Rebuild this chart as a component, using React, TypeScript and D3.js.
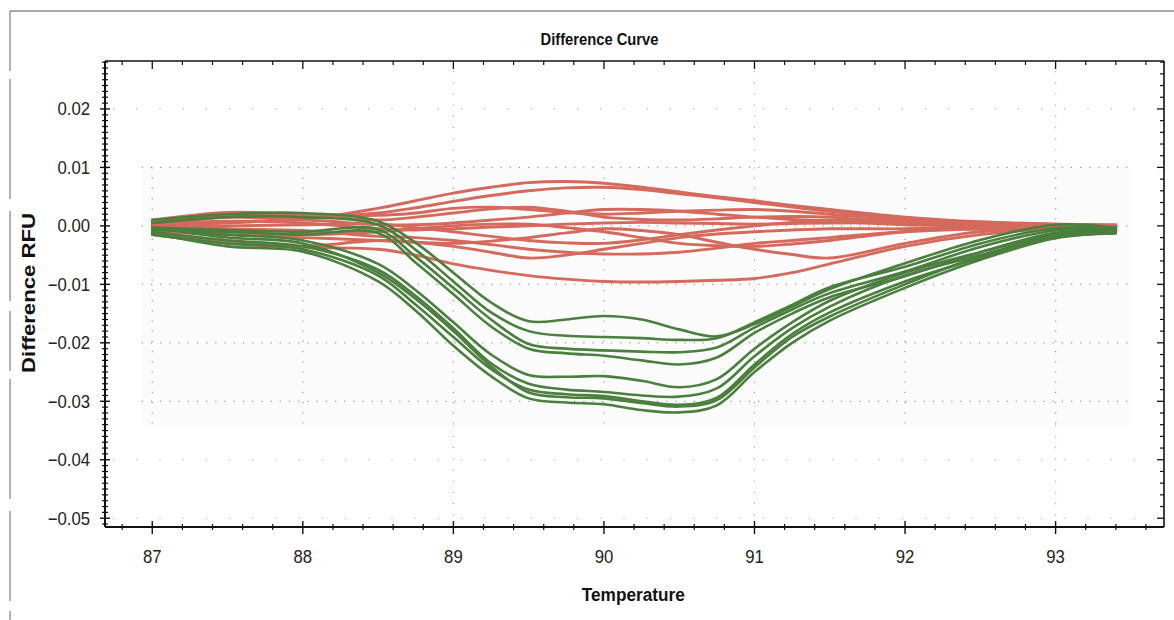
import React from "react";
import * as d3 from "d3";

const temps = [87, 87.5, 88, 88.5, 88.75, 89, 89.25, 89.5, 89.75, 90, 90.25, 90.5, 90.75, 91, 91.25, 91.5, 92, 92.5, 93, 93.4];

// values in mRFU (x 0.001)
const redSeries: number[][] = [
  [0.5, 1.5, 1.2, 3, 4.3, 5.6, 6.6, 7.4, 7.6, 7.3, 6.6, 5.8, 5, 4.3, 3.5, 2.8, 1.5, 0.7, 0.3, 0],
  [0.8, 1.8, 1.5, 2.2, 3.1, 4.2, 5.2, 6, 6.5, 6.6, 6.2, 5.5, 4.8, 4, 3.2, 2.5, 1.2, 0.6, 0.2, -0.1],
  [1, 2.3, 2, 1.8, 2.2, 3, 3.2, 2.8, 2.3, 2, 2.2, 2.5, 2.7, 2.8, 2.5, 2, 1, 0.5, 0.3, 0.2],
  [0.2, 1.5, 1.8, 1, 1.5, 2.2, 2.9, 3.2, 2.5, 1.5, 1.1, 1, 1.2, 1.5, 1.6, 1.5, 0.5, 0.2, 0, -0.2],
  [0, 0.5, 1, 0.2, 0.2, 0.5, 1, 1.5, 2.2, 2.8, 2.8, 2.5, 2, 1.5, 1.1, 0.8, 0.2, 0, -0.2, -0.3],
  [0.3, 0.8, 0.5, -0.5, -0.7, -0.5, -0.2, 0, 0.3, 0.5, 0.6, 0.5, 0.4, 0.3, 0.4, 0.5, 0.5, 0.3, 0, -0.4],
  [-0.3, 0, 0.2, 0.3, -0.3, -1, -1.8, -2.5, -2.9, -3, -2.4, -1.5, -0.7, 0, 0.6, 1, 0.8, 0.3, 0, -0.5],
  [-0.5, -1, -1.5, -1, -0.5, 0, 0.3, 0.3, -0.3, -1, -2, -3, -3.4, -3.5, -3.1, -2.5, -1, -0.5, -0.3, -0.6],
  [-1, -1.5, -2, -2.5, -2.8, -3, -2.6, -2, -1.2, -0.5, -0.8, -1.5, -2.8, -4, -4.9, -5.5, -3, -1, -0.5, -0.7],
  [-1.5, -3, -3.5, -2.5, -2.8, -3.5, -4.5, -5.5, -5, -4, -3, -2, -1.4, -1, -0.7, -0.5, -0.5, -0.3, -0.3, -0.8],
  [-1.2, -2.5, -3.6, -4, -5, -6.5, -7.6, -8.5, -9.1, -9.5, -9.6, -9.5, -9.3, -9, -8, -6.5, -3.5, -1.5, -0.5, -0.8],
  [0, -0.5, -0.8, -1.8, -2, -2.5, -3.2, -4, -4.5, -4.8, -4.8, -4.5, -3.8, -3, -2.5, -2, -1, -0.5, -0.2, -0.5],
];

const greenSeries: number[][] = [
  [1, 2, 2.2, 0.8, -2.9, -8, -13.1, -16.3, -16, -15.4, -16, -17.7, -18.9, -16.8, -13.8, -10.8, -6.4, -2.4, 0.2, -0.3],
  [0.5, 1.5, 1.5, 0.2, -4.1, -9.5, -14.8, -18, -18.8, -19, -19.2, -19.5, -19.2, -16.5, -13.5, -10.5, -7, -3, -0.4, -0.5],
  [-0.3, -0.7, -1, -0.6, -5.3, -10.6, -16, -20.2, -21, -21.3, -21.5, -21.6, -20.8, -17.4, -14.3, -11.5, -7.8, -3.6, -0.8, -0.7],
  [-0.7, -1, -1.5, -1.2, -6.3, -11.7, -17.2, -21, -21.8, -22.2, -23, -23.7, -22.5, -18.3, -15, -12.2, -8.6, -4.5, -1.2, -0.9],
  [-0.5, -1.5, -2.5, -6.5, -11, -16.5, -22, -25.5, -25.8, -25.7, -26.5, -27.6, -26.2, -21, -16.5, -12.8, -8, -4.5, -1.5, -0.8],
  [-1, -2.5, -3.5, -7.5, -12, -17.5, -23.5, -27, -28, -28.4, -29, -29.2, -27.8, -22.3, -17.5, -13.8, -8.5, -5, -1.8, -1],
  [-1.5, -3, -4, -8.5, -13.5, -19, -24.5, -28, -28.8, -29.1, -30, -30.6, -29.4, -23.7, -18.5, -14.8, -9.5, -5.5, -2, -1.2],
  [-1.2, -3.5, -4.4, -9.5, -14.5, -20.5, -25.7, -29.5, -30.2, -30.5, -31.5, -31.9, -30.7, -25, -20, -16.2, -10.6, -5.8, -2.1, -1.3],
  [-0.3, -2, -3, -8, -12.5, -18, -24, -28.5, -29.3, -29.5, -30.3, -30.9, -29.8, -24.2, -19, -15.5, -10, -5.2, -1.9, -1],
];

const xTicks = [87, 88, 89, 90, 91, 92, 93];
const yTicks = [0.02, 0.01, 0.0, -0.01, -0.02, -0.03, -0.04, -0.05];
const denseGridY = [0.01, 0.0, -0.01, -0.02, -0.03];
const sparseGridY = [0.02, -0.04, -0.05];

const titleText = "Difference Curve";
const xTitle = "Temperature";
const yTitle = "Difference RFU";

const RED = "#d4695c";
const GREEN = "#4a7f3e";

export default function App() {
  const W = 1174, H = 620;
  const L = 105, R = 1164, T = 61, B = 527;
  const x = d3.scaleLinear().domain([86.686, 93.72]).range([L, R]);
  const y = d3.scaleLinear().domain([-0.0515, 0.0282]).range([B, T]);
  const line = d3
    .line<number>()
    .x((_, i) => x(temps[i]))
    .y((v) => y(v / 1000))
    .curve(d3.curveCatmullRom.alpha(0.5));

  const fmt = d3.format(".2f");
  const xMinor = d3.range(86.8, 93.61, 0.2).filter((v) => Math.abs(v - Math.round(v)) > 0.01);
  const yMinor = d3.range(-51, 29, 1).map((v) => v / 1000).filter((v) => Math.abs(v * 100 - Math.round(v * 100)) > 1e-6);
  const yRightMinor = d3.range(-50, 29, 2).map((v) => v / 1000).filter((v) => Math.abs(v * 100 - Math.round(v * 100)) > 1e-6);

  const gx0 = x(86.93), gx1 = x(93.5);
  const gy0 = y(0.01), gy1 = y(-0.034);
  const font = "'Liberation Sans', Arial, sans-serif";

  return (
    <svg width={W} height={H} style={{ position: "absolute", left: 0, top: 0, background: "#fff" }} fontFamily={font}>
      {/* page frame */}
      <line x1={10} y1={11} x2={W} y2={11} stroke="#555" strokeWidth={1.2} />
      <line x1={10} y1={11} x2={10} y2={H} stroke="#666" strokeWidth={1} strokeDasharray="60,8,120,12,90,10" />

      {/* faint plot zone */}
      <rect x={gx0} y={gy0} width={gx1 - gx0} height={gy1 - gy0} fill="#fbfbfb" />

      {/* dense dotted grid */}
      {denseGridY.map((v) => (
        <line key={"gy" + v} x1={gx0} x2={gx1} y1={y(v)} y2={y(v)} stroke="#999" strokeWidth={1.2} strokeDasharray="1.2,8" />
      ))}
      {xTicks.map((v) => (
        <line key={"gx" + v} x1={x(v)} x2={x(v)} y1={gy0} y2={gy1} stroke="#999" strokeWidth={1.2} strokeDasharray="1.2,9" />
      ))}
      {/* sparse dotted grid */}
      {sparseGridY.map((v) => (
        <line key={"sy" + v} x1={L + 8} x2={R - 10} y1={y(v)} y2={y(v)} stroke="#aaa" strokeWidth={1.2} strokeDasharray="1.2,22" />
      ))}
      {[89, 91, 93].map((v) => (
        <g key={"sx" + v}>
          <line x1={x(v)} x2={x(v)} y1={T + 10} y2={gy0} stroke="#aaa" strokeWidth={1.2} strokeDasharray="1.2,10" />
          <line x1={x(v)} x2={x(v)} y1={gy1} y2={B - 4} stroke="#aaa" strokeWidth={1.2} strokeDasharray="1.2,10" />
        </g>
      ))}

      {/* curves */}
      <g fill="none" strokeLinecap="round">
        {redSeries.map((s, i) => (
          <path key={"r" + i} d={line(s) || ""} stroke={RED} strokeWidth={2.9} />
        ))}
        {greenSeries.map((s, i) => (
          <path key={"g" + i} d={line(s) || ""} stroke={GREEN} strokeWidth={2.6} />
        ))}
      </g>

      {/* frame: top and right borders */}
      <line x1={L} x2={R} y1={T} y2={T} stroke="#111" strokeWidth={1.6} />
      <line x1={R} x2={R} y1={T} y2={B} stroke="#111" strokeWidth={1.6} />
      {xTicks.map((v) => (
        <line key={"tt" + v} x1={x(v)} x2={x(v)} y1={T} y2={T + 8} stroke="#111" strokeWidth={1.3} />
      ))}
      {xMinor.map((v) => (
        <line key={"tm" + v} x1={x(v)} x2={x(v)} y1={T} y2={T + 4} stroke="#111" strokeWidth={1.2} />
      ))}
      {yTicks.map((v) => (
        <line key={"rt" + v} x1={R - 7} x2={R} y1={y(v)} y2={y(v)} stroke="#111" strokeWidth={1.3} />
      ))}
      {yRightMinor.map((v) => (
        <line key={"rm" + v} x1={R - 4} x2={R} y1={y(v)} y2={y(v)} stroke="#111" strokeWidth={1.2} />
      ))}

      {/* left axis */}
      <line x1={L} x2={L} y1={T} y2={B} stroke="#111" strokeWidth={2} />
      {yTicks.map((v) => (
        <line key={"lt" + v} x1={L - 5} x2={L + 5} y1={y(v)} y2={y(v)} stroke="#111" strokeWidth={1.4} />
      ))}
      {yMinor.map((v) => (
        <line key={"lm" + v} x1={L - 3} x2={L + 3} y1={y(v)} y2={y(v)} stroke="#111" strokeWidth={1.2} />
      ))}
      {yTicks.map((v) => (
        <text key={"ll" + v} transform={`translate(90,${y(v) + 6.5}) scale(0.93,1)`} textAnchor="end" fontSize={18} fill="#222">
          {fmt(v)}
        </text>
      ))}

      {/* bottom axis */}
      <line x1={L} x2={R} y1={B} y2={B} stroke="#111" strokeWidth={2} />
      {xTicks.map((v) => (
        <line key={"bt" + v} x1={x(v)} x2={x(v)} y1={B - 6} y2={B + 7} stroke="#111" strokeWidth={1.4} />
      ))}
      {xMinor.map((v) => (
        <line key={"bm" + v} x1={x(v)} x2={x(v)} y1={B - 3} y2={B + 3} stroke="#111" strokeWidth={1.2} />
      ))}
      {xTicks.map((v) => (
        <text key={"bl" + v} transform={`translate(${x(v)},563) scale(0.93,1)`} textAnchor="middle" fontSize={18} fill="#222">
          {v}
        </text>
      ))}

      {/* titles */}
      <text x={599.5} y={45} textAnchor="middle" fontSize={16} fontWeight="bold" fill="#111" textLength={118} lengthAdjust="spacingAndGlyphs">
        {titleText}
      </text>
      <text x={633.3} y={601} textAnchor="middle" fontSize={18} fontWeight="bold" fill="#111" textLength={103} lengthAdjust="spacingAndGlyphs">
        {xTitle}
      </text>
      <text transform="translate(35,293) rotate(-90)" textAnchor="middle" fontSize={18} fontWeight="bold" fill="#111" textLength={160} lengthAdjust="spacingAndGlyphs">
        {yTitle}
      </text>
    </svg>
  );
}
